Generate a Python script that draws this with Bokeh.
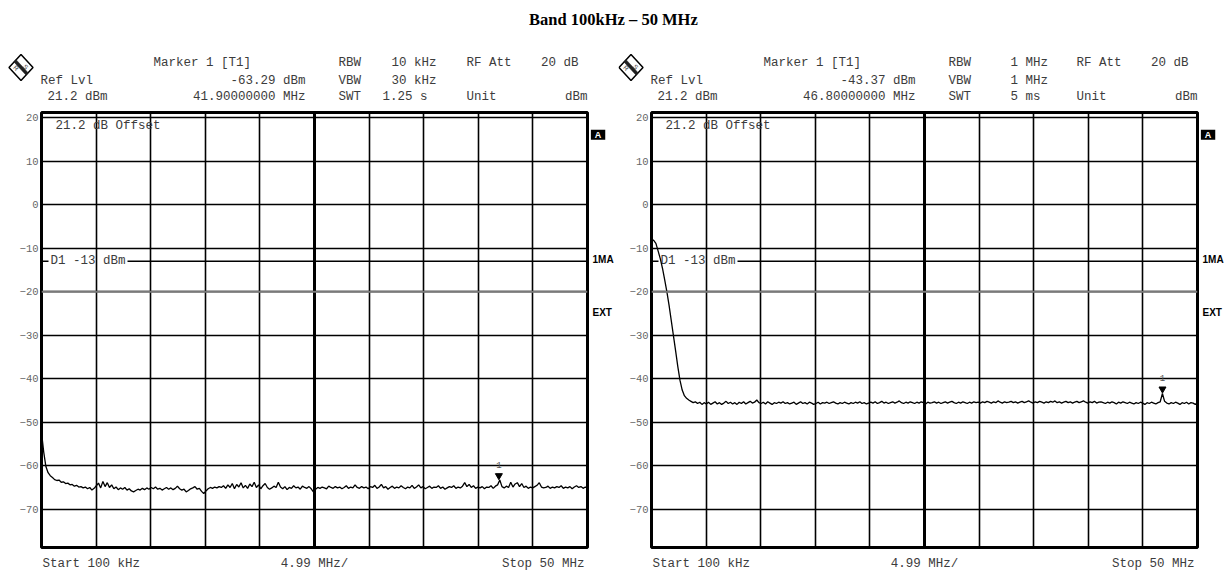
from bokeh.plotting import figure
from bokeh.models import Label, FixedTicker, Span, Grid
from bokeh.layouts import column, row
from bokeh.transform import dodge
from bokeh.embed import file_html
from bokeh.resources import INLINE
import numpy as np

# ---------------- data ----------------
title_text = "Band  100kHz \u2013 50 MHz"
sweep_start_mhz = 0.1
sweep_stop_mhz = 50.0
ref_level_dbm = 21.2
bottom_level_dbm = -78.8
x_grid_mhz = [0.1, 5.09, 10.08, 15.07, 20.06, 25.05, 30.04, 35.03, 40.02, 45.01, 50.0]
center_grid_mhz = [25.05]
y_ticks_db = [20, 10, 0, -10, -20, -30, -40, -50, -60, -70]
grey_grid_db = [-20]
display_line_dbm = -13

left_levels = [
    -52.3, -56.8, -60.2, -61.6, -62.3, -62.7, -63.2, -63.4, -63.3, -63.8,
    -63.7, -64.1, -64.0, -64.4, -64.3, -64.7, -64.5, -64.9, -64.8, -65.1,
    -64.9, -65.3, -65.0, -65.6, -65.2, -64.6, -64.0, -65.1, -63.6, -64.8,
    -63.9, -65.0, -64.4, -65.3, -64.9, -65.5, -65.1, -65.4, -65.0, -65.6,
    -65.3, -65.8, -66.0, -65.7, -65.4, -65.6, -65.2, -65.5, -65.1, -65.4,
    -65.0, -65.3, -64.9, -65.4, -65.2, -65.6, -65.3, -65.0, -65.4, -65.1,
    -65.5, -65.2, -64.7, -65.3, -65.6, -65.4, -66.0, -65.7, -65.3, -65.1,
    -64.8, -65.4, -65.2, -65.9, -66.4, -65.8, -65.3, -65.0, -65.2, -64.9,
    -65.1, -64.8, -65.0, -64.6, -65.2, -64.4, -65.0, -64.1, -65.3, -64.3,
    -64.9, -63.9, -65.1, -64.5, -65.2, -64.2, -64.8, -63.8, -65.0, -64.4,
    -65.3, -64.6, -64.1, -65.0, -65.4, -65.1, -64.7, -65.0, -63.8, -64.9,
    -65.3, -64.8, -65.5, -65.0, -65.2, -64.6, -65.1, -64.9, -65.4, -64.7,
    -65.0, -65.2, -64.8, -65.3, -66.0, -65.4, -65.0, -65.2, -64.9, -65.1,
    -65.3, -64.7, -65.0, -65.2, -64.8, -65.1, -64.9, -65.3, -65.0, -64.6,
    -65.2, -64.9, -65.1, -64.4, -65.0, -65.2, -64.8, -65.1, -64.9, -65.3,
    -64.8, -65.0, -64.5, -65.2, -64.9, -64.3, -65.1, -64.8, -65.4, -65.0,
    -64.7, -65.2, -64.9, -65.1, -64.6, -65.0, -65.3, -64.9, -65.1, -64.5,
    -65.2, -64.9, -64.4, -65.1, -64.8, -65.3, -65.0, -64.7, -65.2, -64.9,
    -65.0, -64.6, -65.2, -64.9, -65.4, -65.1, -64.8, -65.0, -64.6, -65.2,
    -64.9, -65.1, -64.7, -63.9, -64.8, -64.3, -65.0, -64.6, -65.2, -64.9,
    -65.1, -64.8, -65.3, -64.9, -65.0, -64.6, -65.2, -64.7, -64.4, -63.3,
    -64.8, -65.1, -64.7, -65.0, -63.8, -64.9, -64.2, -63.9, -64.8, -64.1,
    -65.0, -64.7, -65.2, -64.9, -65.1, -64.8, -64.5, -63.9, -64.9, -65.1,
    -65.0, -64.7, -65.2, -64.9, -65.1, -64.8, -65.0, -64.6, -65.2, -64.9,
    -65.1, -64.8, -65.3, -64.9, -64.6, -65.0, -64.8, -65.2, -64.9, -65.1,
]

right_levels = [
    -7.8, -8.2, -8.9, -10.6, -12.4, -14.6, -17.2, -20.0, -23.1, -26.6,
    -30.1, -33.6, -37.2, -40.4, -42.6, -43.9, -44.5, -44.9, -45.2, -45.5,
    -45.3, -45.7, -45.4, -45.9, -45.5, -45.8, -45.4, -45.9, -45.6, -45.3,
    -45.8, -45.5, -45.9, -45.6, -45.2, -45.7, -45.4, -45.8, -45.5, -45.9,
    -45.4, -45.7, -45.3, -45.8, -45.5, -45.2, -45.6, -45.4, -44.9, -45.5,
    -45.7, -45.4, -45.8, -45.3, -45.6, -45.9, -45.5, -45.7, -45.4, -45.6,
    -45.3, -45.7, -45.5, -45.8, -45.6, -45.4, -45.9, -45.6, -45.3, -45.7,
    -45.5, -45.8, -45.4, -45.6, -45.9, -45.7, -45.4, -45.8, -45.5, -45.6,
    -45.4, -45.7, -45.5, -45.3, -45.6, -45.8, -45.5, -45.7, -45.4, -45.6,
    -45.8, -45.5, -45.7, -45.4, -45.6, -45.3, -45.7, -45.5, -45.8, -45.6,
    -45.4, -45.6, -45.3, -45.7, -45.5, -45.2, -45.6, -45.4, -45.7, -45.5,
    -45.3, -45.6, -45.4, -45.1, -45.5, -45.7, -45.4, -45.6, -45.3, -45.5,
    -45.7, -45.4, -45.6, -45.3, -45.5, -45.8, -45.4, -45.6, -45.5, -45.3,
    -45.6, -45.4, -45.7, -45.5, -45.3, -45.6, -45.4, -45.2, -45.5, -45.7,
    -45.4, -45.6, -45.3, -45.5, -45.7, -45.4, -45.6, -45.3, -45.5, -45.4,
    -45.6, -45.3, -45.5, -45.2, -45.4, -45.6, -45.3, -45.5, -45.1, -45.4,
    -45.6, -45.3, -45.5, -45.4, -45.2, -45.5, -45.3, -45.6, -45.4, -45.2,
    -45.5, -45.3, -45.1, -45.4, -45.6, -45.3, -45.5, -45.2, -45.4, -45.6,
    -45.3, -45.5, -45.2, -45.4, -45.1, -45.5, -45.3, -45.6, -45.4, -45.2,
    -45.5, -45.3, -45.6, -45.4, -45.2, -45.5, -45.3, -45.1, -45.4, -45.6,
    -45.3, -45.5, -45.2, -45.6, -45.4, -45.3, -45.5, -45.7, -45.4, -45.6,
    -45.3, -45.5, -45.8, -45.4, -45.6, -45.3, -45.5, -45.7, -45.4, -45.6,
    -45.8, -45.5, -45.7, -45.4, -45.6, -45.9, -45.5, -45.7, -45.4, -45.6,
    -45.8, -45.5, -45.3, -43.4, -45.2, -45.6, -45.8, -45.5, -45.7, -45.4,
    -45.6, -45.9, -45.5, -45.7, -45.4, -45.8, -45.5, -45.6, -45.9, -45.6,
]

left_marker_mhz = [41.9]
left_marker_dbm = [-63.29]
right_marker_mhz = [46.8]
right_marker_dbm = [-43.37]

left_header = {"level": "-63.29 dBm", "freq": "41.90000000 MHz",
               "rbw": "10 kHz", "vbw": "30 kHz", "swt": "1.25 s", "swt_x": 382, "bw_x": 391}
right_header = {"level": "-43.37 dBm", "freq": "46.80000000 MHz",
                "rbw": "1 MHz", "vbw": "1 MHz", "swt": "5 ms", "swt_x": 400, "bw_x": 400}

# ---------------- layout constants (page pixels) ----------------
TITLE_H = 34
HEAD_H = 74               # 34 .. 108
PANEL_TOP = 108
FR_TOP = 112
FR_BOTTOM = 547
PANEL_H = 550 - PANEL_TOP  # 108 .. 550
FOOT_H = 20               # 550 .. 570
FR_LEFT_L = 41
FR_W = 546
MONO = "Liberation Mono"
TXT = "#3c3c3c"


def canvas(w, h):
    c = figure(width=w, height=h, output_backend="svg", toolbar_location=None,
               x_range=(0, w), y_range=(h, 0), x_axis_type=None, y_axis_type=None,
               title=None, min_border=0)
    c.outline_line_color = None
    c.background_fill_color = "white"
    c.border_fill_color = "white"
    return c


def txt(c, text, x, y, align="left", size="12.5px", color=TXT, font=MONO, style="normal",
        baseline="alphabetic", **kw):
    c.add_layout(Label(x=x, y=y, text=text, text_align=align, text_baseline=baseline,
                       text_font=font, text_font_size=size, text_color=color,
                       text_font_style=style, **kw))


def make_header(hdr, w, shift):
    c = canvas(w, HEAD_H)
    oy = TITLE_H

    def t(text, px, py, align="left"):
        txt(c, text, px - shift, py - oy, align)

    t("Marker 1 [T1]", 153, 62.5)
    t("Ref Lvl", 40, 80.5)
    t(hdr["level"], 305, 80.5, "right")
    t("21.2 dBm", 47, 96.5)
    t(hdr["freq"], 305, 96.5, "right")
    t("RBW", 338, 62.5)
    t("VBW", 338, 80.5)
    t("SWT", 338, 96.5)
    t(hdr["rbw"], hdr["bw_x"], 62.5)
    t(hdr["vbw"], hdr["bw_x"], 80.5)
    t(hdr["swt"], hdr["swt_x"], 96.5)
    t("RF Att", 466, 62.5)
    t("20 dB", 578, 62.5, "right")
    t("Unit", 466, 96.5)
    t("dBm", 587, 96.5, "right")

    # R&S logo
    dia = [(8.5, 67), (20.5, 54), (32.5, 67), (20.5, 80)]
    c.patch([a - shift for a, b in dia], [b - oy for a, b in dia], fill_color="white",
            line_color="black", line_width=1.5)
    band = [(15.6, 59.2), (27.6, 72.2), (25.4, 74.4), (13.4, 61.4)]
    c.patch([a - shift for a, b in band], [b - oy for a, b in band], fill_color="#222222",
            line_color="#222222", line_width=0.5)
    c.text(x=[15.8 - shift], y=[67.5 - oy], text=["R"], angle=-0.8,
           text_font={"value": "Liberation Sans"}, text_font_size="6.5px", text_color="#333333",
           text_align="center", text_baseline="middle")
    c.text(x=[25.2 - shift], y=[66.2 - oy], text=["S"], angle=-0.8,
           text_font={"value": "Liberation Sans"}, text_font_size="6.5px", text_color="#333333",
           text_align="center", text_baseline="middle")
    return c


def make_footer(w, shift):
    c = canvas(w, FOOT_H)
    oy = 550
    txt(c, "Start 100 kHz", 42 - shift, 563.5 - oy)
    txt(c, "4.99 MHz/", 314 - shift, 563.5 - oy, "center")
    txt(c, "Stop 50 MHz", 584 - shift, 563.5 - oy, "right")
    return c


def make_side(w):
    c = canvas(w, PANEL_H)
    oy = PANEL_TOP
    txt(c, "A", 7.5, 130.5 - oy, "center", size="9px", color="white", font="Liberation Sans",
        style="bold", baseline="middle", background_fill_color="black", padding=(4, 0))
    txt(c, "1MA", 2, 257 - oy, size="10px", color="black", font="Liberation Sans", style="bold",
        baseline="middle")
    txt(c, "EXT", 2, 311 - oy, size="10px", color="black", font="Liberation Sans", style="bold",
        baseline="middle")
    return c


def make_panel(levels, mk_x, mk_y, border_left):
    width = border_left + FR_W + 3
    p = figure(width=width, height=PANEL_H, output_backend="svg", toolbar_location=None,
               x_range=(sweep_start_mhz, sweep_stop_mhz),
               y_range=(bottom_level_dbm, ref_level_dbm),
               min_border_left=border_left, min_border_right=3,
               min_border_top=FR_TOP - PANEL_TOP, min_border_bottom=550 - FR_BOTTOM,
               x_axis_type=None, title=None)
    p.background_fill_color = "white"
    p.border_fill_color = "white"
    p.outline_line_color = "black"
    p.outline_line_width = 3

    X0, X1 = sweep_start_mhz, sweep_stop_mhz

    p.yaxis.ticker = FixedTicker(ticks=y_ticks_db)
    p.yaxis.major_tick_line_color = None
    p.yaxis.minor_tick_line_color = None
    p.yaxis.major_tick_out = 0
    p.yaxis.major_tick_in = 0
    p.yaxis.minor_tick_out = 0
    p.yaxis.axis_line_color = None
    p.yaxis.major_label_standoff = 3
    p.yaxis.major_label_text_font = MONO
    p.yaxis.major_label_text_font_size = "10.5px"
    p.yaxis.major_label_text_color = "#666666"

    p.ygrid.ticker = FixedTicker(ticks=y_ticks_db)
    p.ygrid.grid_line_color = "black"
    p.ygrid.grid_line_width = 1.6
    p.add_layout(Grid(dimension=0, ticker=FixedTicker(ticks=x_grid_mhz),
                      grid_line_color="black", grid_line_width=1.6))
    for v in center_grid_mhz:
        p.add_layout(Span(location=v, dimension="height", line_color="black", line_width=3))
    for v in grey_grid_db:
        p.add_layout(Span(location=v, dimension="width", line_color="#7a7a7a", line_width=2))

    def px2x(px):
        return X0 + (px - FR_LEFT_L) / FR_W * (X1 - X0)

    # display line D1
    p.segment(x0=[X0, px2x(127)], y0=[display_line_dbm] * 2, x1=[px2x(48), X1],
              y1=[display_line_dbm] * 2, line_color="black", line_width=1.3)
    p.text(x=[px2x(50)], y=[display_line_dbm], text=["D1 -13 dBm"], text_font={"value": MONO},
           text_font_size="12.5px", text_color=TXT, text_baseline="middle", text_align="left")

    # offset note inside the frame
    p.add_layout(Label(x=55 - FR_LEFT_L, y=FR_BOTTOM - 125, x_units="screen", y_units="screen",
                       text="21.2 dB Offset", text_font=MONO, text_font_size="12.5px",
                       text_color=TXT, text_baseline="alphabetic"))

    # trace
    freqs = np.linspace(sweep_start_mhz, sweep_stop_mhz, len(levels))
    p.line(freqs, levels, line_color="black", line_width=1.3)

    # marker
    src = {"x": mk_x, "y": mk_y, "t": ["1"]}
    p.scatter(x="x", y=dodge("y", 1.0, range=p.y_range), source=src, marker="inverted_triangle",
              size=7, color="black")
    p.text(x="x", y="y", text="t", source=src, y_offset=-12, text_font={"value": MONO},
           text_font_size="9px", text_color="#555555", text_align="center", text_baseline="bottom")
    return p


# title
top = canvas(1230, TITLE_H)
txt(top, title_text, 615, 18.5, "center", size="16.5px", color="black",
    font="Liberation Serif", style="bold", baseline="middle")

head_l = make_header(left_header, 618, 0)
head_r = make_header(right_header, 612, 8)
panel_l = make_panel(left_levels, left_marker_mhz, left_marker_dbm, 41)   # 0..590
side_l = make_side(28)                                                     # 590..618
panel_r = make_panel(right_levels, right_marker_mhz, right_marker_dbm, 33)  # 618..1200
side_r = make_side(30)                                                     # 1200..1230
foot_l = make_footer(618, 0)
foot_r = make_footer(612, 8)

layout = column(top, row(head_l, head_r), row(panel_l, side_l, panel_r, side_r),
                row(foot_l, foot_r))
open("out.html", "w").write(file_html(layout, INLINE))
